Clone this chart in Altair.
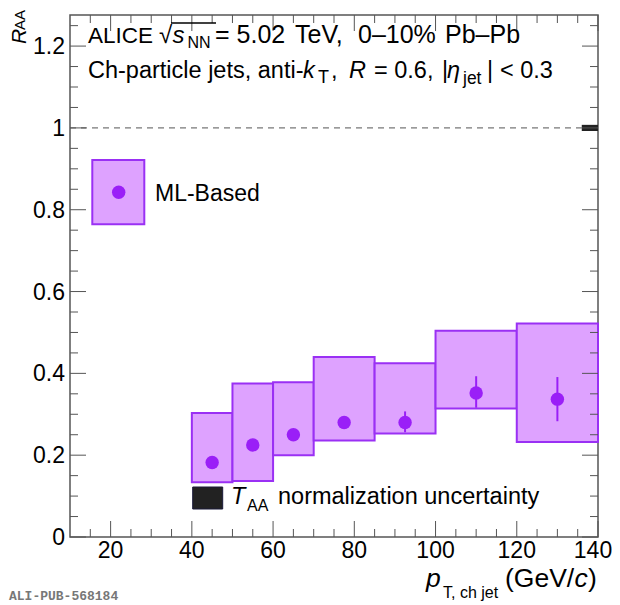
import altair as alt
import pandas as pd

# ---------------- data ----------------
bin_lo = [40, 50, 60, 70, 85, 100, 120]
bin_hi = [50, 60, 70, 85, 100, 120, 140]
bin_center = [45, 55, 65, 77.5, 92.5, 110, 130]
raa = [0.182, 0.225, 0.250, 0.280, 0.280, 0.352, 0.337]
stat_lo = [0.172, 0.213, 0.238, 0.268, 0.256, 0.316, 0.283]
stat_hi = [0.192, 0.237, 0.262, 0.292, 0.307, 0.393, 0.391]
sys_lo = [0.134, 0.137, 0.200, 0.236, 0.253, 0.314, 0.232]
sys_hi = [0.303, 0.375, 0.378, 0.440, 0.425, 0.504, 0.522]

taa_x = [136, 140]
taa_y = [0.9925, 1.0075]
unity = [1.0]

x_major = [20, 40, 60, 80, 100, 120, 140]
x_labels = ["20", "40", "60", "80", "100", "120", "140"]
x_minor = [v for v in range(15, 140, 5) if v % 20 != 0]
y_major = [0.0, 0.2, 0.4, 0.6, 0.8, 1.0, 1.2]
y_labels = ["0", "0.2", "0.4", "0.6", "0.8", "1", "1.2"]
y_minor = [round(0.05 * i, 2) for i in range(1, 26) if i % 4 != 0]

X_DOMAIN = [10, 140]
Y_DOMAIN = [0, 1.276]

# ---------------- style ----------------
W, H = 528, 522
OX, OY = 70, 15          # page position of the plot origin (8px margin + padding)
FONT = "Liberation Sans"
FRAME = "#555555"
BOX_FILL = "#dea2ff"
BOX_STROKE = "#9a30f4"
MARKER = "#9a1ff7"

xs = alt.Scale(domain=X_DOMAIN, nice=False, zero=False)
ys = alt.Scale(domain=Y_DOMAIN, nice=False, zero=False)

df = pd.DataFrame({
    "lo": bin_lo, "hi": bin_hi, "xc": bin_center, "raa": raa,
    "slo": stat_lo, "shi": stat_hi, "ylo": sys_lo, "yhi": sys_hi,
})

ONE = alt.InlineData(values=[{"a": 1}])

boxes = alt.Chart(df).mark_rect(fill=BOX_FILL, stroke=BOX_STROKE, strokeWidth=2).encode(
    x=alt.X("lo:Q", scale=xs, axis=None),
    x2="hi:Q",
    y=alt.Y("ylo:Q", scale=ys, axis=None),
    y2="yhi:Q",
)

errs = alt.Chart(df).mark_rule(color=MARKER, strokeWidth=2).encode(
    x=alt.X("xc:Q", scale=xs, axis=None),
    y=alt.Y("slo:Q", scale=ys, axis=None),
    y2="shi:Q",
)

points = alt.Chart(df).mark_point(filled=True, shape="circle", size=180, color=MARKER, opacity=1).encode(
    x=alt.X("xc:Q", scale=xs, axis=None),
    y=alt.Y("raa:Q", scale=ys, axis=None),
)

unity_line = alt.Chart(pd.DataFrame({"u": unity, "x0": [X_DOMAIN[0]], "x1": [taa_x[0]]})).mark_rule(
    color="#555555", strokeWidth=1, strokeDash=[6, 5]).encode(
    y=alt.Y("u:Q", scale=ys, axis=None),
    x=alt.X("x0:Q", scale=xs, axis=None),
    x2="x1:Q",
)

taa_box = alt.Chart(pd.DataFrame({"x0": [taa_x[0]], "x1": [taa_x[1]], "y0": [taa_y[0]], "y1": [taa_y[1]]})).mark_rect(
    fill="#222222").encode(
    x=alt.X("x0:Q", scale=xs, axis=None), x2="x1:Q",
    y=alt.Y("y0:Q", scale=ys, axis=None), y2="y1:Q",
)

# ---------------- inner tick marks (ROOT style, all four sides) ----------------
def yticks(vals, length):
    d = pd.DataFrame({"v": vals})
    left = alt.Chart(d).mark_rule(color=FRAME, strokeWidth=1).encode(
        y=alt.Y("v:Q", scale=ys, axis=None), x=alt.value(0), x2=alt.value(length))
    right = alt.Chart(d).mark_rule(color=FRAME, strokeWidth=1).encode(
        y=alt.Y("v:Q", scale=ys, axis=None), x=alt.value(W - length), x2=alt.value(W))
    return [left, right]


def xticks(vals, length):
    d = pd.DataFrame({"v": vals})
    bottom = alt.Chart(d).mark_rule(color=FRAME, strokeWidth=1).encode(
        x=alt.X("v:Q", scale=xs, axis=None), y=alt.value(H), y2=alt.value(H - length))
    top = alt.Chart(d).mark_rule(color=FRAME, strokeWidth=1).encode(
        x=alt.X("v:Q", scale=xs, axis=None), y=alt.value(0), y2=alt.value(length))
    return [bottom, top]


tick_layers = yticks(y_major, 16) + yticks(y_minor, 8) + xticks(x_major, 16) + xticks(x_minor, 8)

# tick labels
ylab = alt.Chart(pd.DataFrame({"v": y_major, "lab": y_labels})).mark_text(
    align="right", baseline="alphabetic", fontSize=23, font=FONT, color="black", dy=8).encode(
    y=alt.Y("v:Q", scale=ys, axis=None), x=alt.value(-5), text="lab:N")
xlab = alt.Chart(pd.DataFrame({"v": x_major[:-1], "lab": x_labels[:-1]})).mark_text(
    align="center", baseline="alphabetic", fontSize=23, font=FONT, color="black").encode(
    x=alt.X("v:Q", scale=xs, axis=None), y=alt.value(H + 21), text="lab:N")
# last label nudged left so it stays inside the page
xlab_last = alt.Chart(pd.DataFrame({"v": x_major[-1:], "lab": x_labels[-1:]})).mark_text(
    align="center", baseline="alphabetic", fontSize=23, font=FONT, color="black", dx=-5).encode(
    x=alt.X("v:Q", scale=xs, axis=None), y=alt.value(H + 21), text="lab:N")


# ---------------- text helpers (page pixel positions) ----------------
def txt(s, x, y, size=24, italic=False, font=FONT, color="black", weight="normal"):
    return alt.Chart(ONE).mark_text(
        text=s, align="left", baseline="alphabetic", fontSize=size,
        fontStyle="italic" if italic else "normal", font=font,
        color=color, fontWeight=weight,
    ).encode(x=alt.value(x - OX), y=alt.value(y - OY))


def vtxt(s, x, y, size=21, italic=False):
    # text reading bottom-to-top
    return alt.Chart(ONE).mark_text(
        text=s, align="left", baseline="alphabetic", fontSize=size, angle=270,
        fontStyle="italic" if italic else "normal", font=FONT, color="black",
    ).encode(x=alt.value(x - OX), y=alt.value(y - OY), angle=alt.value(270))


L1 = 43.3
L2 = 78.3
header = [
    txt("ALICE", 88, L1, 22.5),
    txt("\u221a", 159, L1, 24),
    txt("s", 172.5, L1, 24, italic=True),
    txt("NN", 187.5, L1 + 5, 16),
    txt("= 5.02", 215, L1, 25),
    txt("TeV,", 295, L1, 25),
    txt("0\u201310%", 358, L1, 25),
    txt("Pb\u2013Pb", 445, L1, 25),
    txt("Ch-particle jets, anti-", 88, L2, 23.5),
    txt("k", 303, L2, 23.5, italic=True),
    txt("T", 318, L2 + 5, 18),
    txt(",", 331, L2, 23.5),
    txt("R", 349, L2, 23.5, italic=True),
    txt("= 0.6,", 374, L2, 23.5),
    txt("|", 442, L2, 23.5),
    txt("\u03b7", 447, L2, 23.5, italic=True),
    txt("jet", 463, L2 + 6, 17.5),
    txt("|", 487, L2, 23.5),
    txt("< 0.3", 500, L2, 23.5),
]

overline = alt.Chart(ONE).mark_rule(color="black", strokeWidth=1.5).encode(
    x=alt.value(171 - OX), x2=alt.value(216 - OX), y=alt.value(23 - OY))

# legend: ML-Based
leg_box = alt.Chart(ONE).mark_rect(fill=BOX_FILL, stroke=BOX_STROKE, strokeWidth=2).encode(
    x=alt.value(92.3 - OX), x2=alt.value(144.3 - OX), y=alt.value(160 - OY), y2=alt.value(224.3 - OY))
leg_pt = alt.Chart(ONE).mark_point(filled=True, shape="circle", size=180, color=MARKER, opacity=1).encode(
    x=alt.value(118.7 - OX), y=alt.value(192.3 - OY))
leg_txt = txt("ML-Based", 155, 201, 23)

# legend: T_AA normalization uncertainty
taa_leg = alt.Chart(ONE).mark_rect(fill="#222222", stroke="#1a1a3a", strokeWidth=1).encode(
    x=alt.value(192.7 - OX), x2=alt.value(222.7 - OX), y=alt.value(487 - OY), y2=alt.value(509 - OY))
taa_txt = [
    txt("T", 231, 504, 23.5, italic=True),
    txt("AA", 247, 511, 16),
    txt("normalization uncertainty", 278, 504, 23.5),
]

# axis titles
FX = 26.5
x_title = [
    txt("p", 426, 587, FX, italic=True),
    txt("T, ch jet", 443, 598, 16),
    txt("(GeV/", 505, 587, FX),
    txt("c", 574.5, 587, FX, italic=True),
    txt(")", 588, 587, FX),
]
y_title = [
    vtxt("R", 26, 44, 21, italic=True),
    vtxt("AA", 25, 30, 15),
]

stamp = txt("ALI-PUB-568184", 9, 600, 13, font="Liberation Mono", color="#777777", weight="bold")

layers = ([boxes, errs, points, unity_line, taa_box] + tick_layers + [ylab, xlab, xlab_last] + header
          + [overline, leg_box, leg_pt, leg_txt, taa_leg] + taa_txt + x_title + y_title + [stamp])

chart = alt.layer(*layers).properties(
    width=W, height=H,
    padding={"left": OX - 8, "top": OY - 8, "right": 14, "bottom": 66},
    autosize=alt.AutoSizeParams(type="none"),
).configure_view(stroke=FRAME, strokeWidth=1.5)

chart.save("out.html", embed_options={"renderer": "svg", "actions": False})
